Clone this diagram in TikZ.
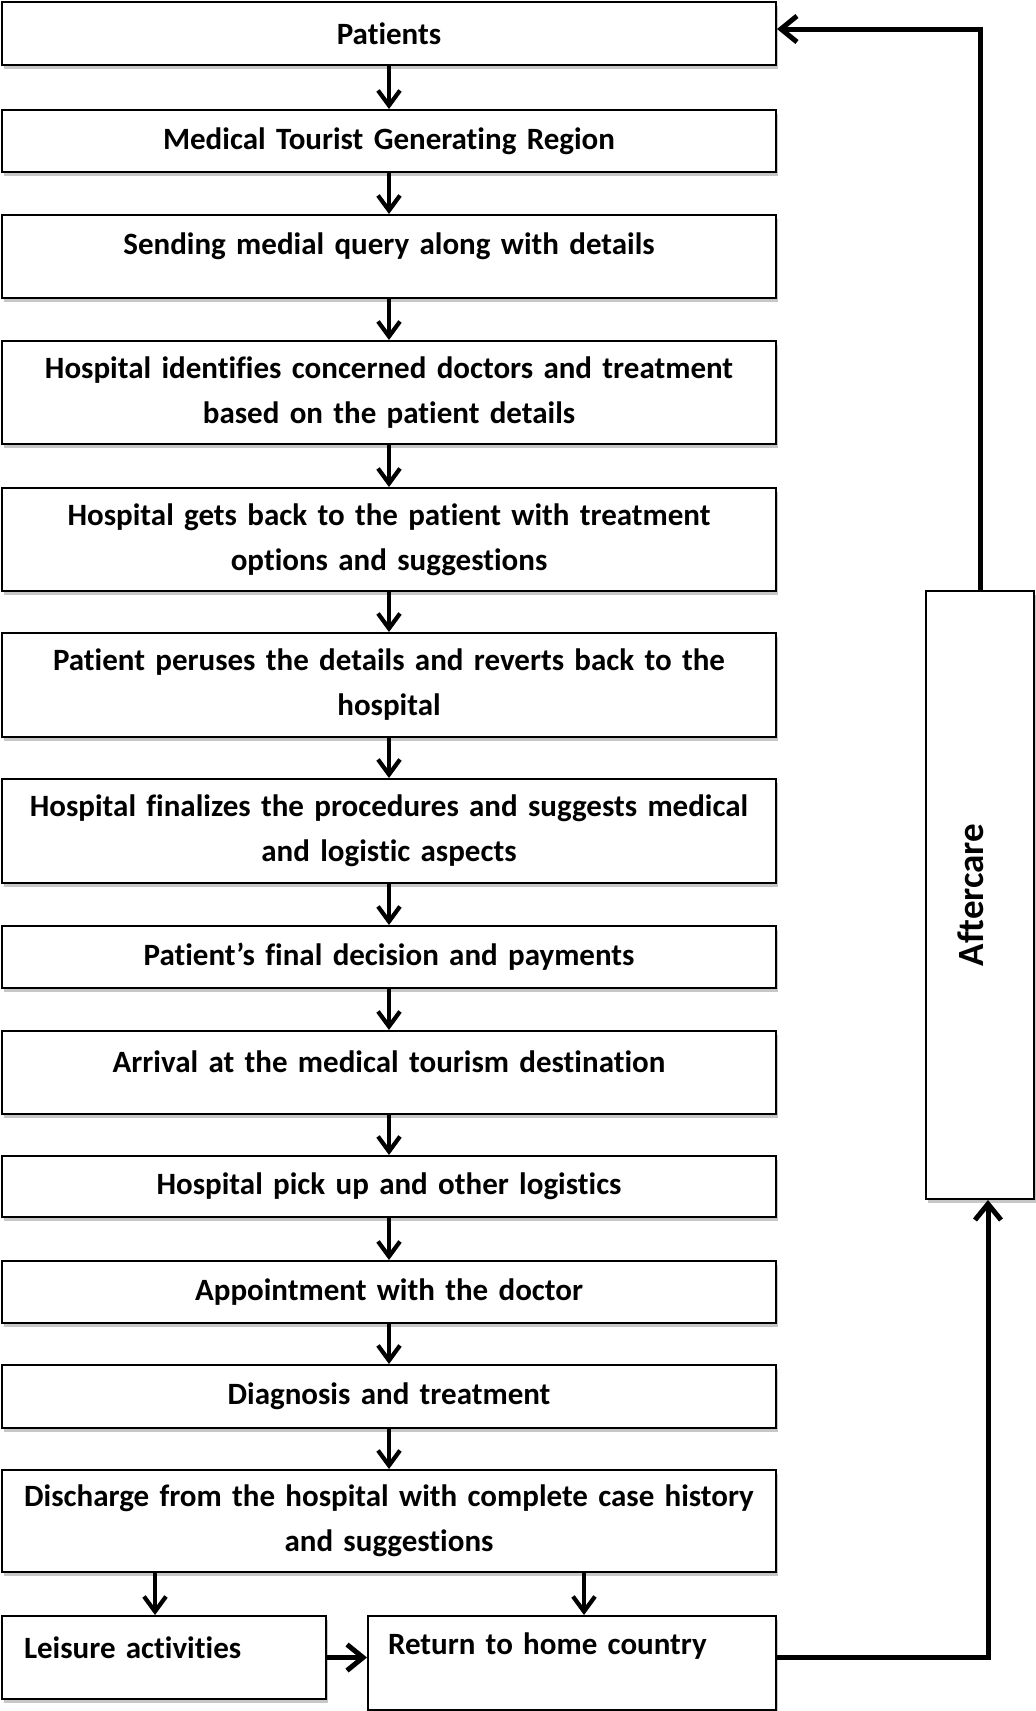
\documentclass[tikz,border=0pt]{standalone}
\usepackage{fontspec}
\setmainfont{Carlito}[Ligatures=NoCommon]
\usetikzlibrary{arrows.meta,shadows}
\begin{document}
\begin{tikzpicture}[x=1pt,y=-1pt,
 box/.style={draw=black, line width=2pt, fill=white, align=center,
   font=\bfseries\fontsize{31}{45}\selectfont,
   general shadow={fill=black!22, shadow xshift=2pt, shadow yshift=-4pt},
   inner ysep=0pt, inner xsep=7pt},
 mainbox/.style={box, minimum width=774pt, text width=760pt},
 dn/.style={line width=4.2pt, -{Straight Barb[length=15pt,width=22pt]}},
 fb/.style={line width=5pt, -{Straight Barb[length=16pt,width=26pt]}},
]
\useasboundingbox (0,0) rectangle (1036,1711);

\node[mainbox, minimum height=63pt] (n1) at (389,33.5) {Patients};
\node[mainbox, minimum height=62pt] (n2) at (389,141) {Medical Tourist Generating Region};
\node[mainbox, minimum height=83pt, text depth=26pt] (n3) at (389,256.5) {Sending medial query along with details};
\node[mainbox, minimum height=103pt] (n4) at (389,392.5) {Hospital identifies concerned doctors and treatment\\based on the patient details};
\node[mainbox, minimum height=103pt] (n5) at (389,539.5) {Hospital gets back to the patient with treatment\\options and suggestions};
\node[mainbox, minimum height=104pt] (n6) at (389,685) {Patient peruses the details and reverts back to the\\hospital};
\node[mainbox, minimum height=104pt] (n7) at (389,831) {Hospital finalizes the procedures and suggests medical\\and logistic aspects};
\node[mainbox, minimum height=62pt] (n8) at (389,957) {Patient’s final decision and payments};
\node[mainbox, minimum height=83pt, text depth=22pt] (n9) at (389,1072.5) {Arrival at the medical tourism destination};
\node[mainbox, minimum height=61pt] (n10) at (389,1186.5) {Hospital pick up and other logistics};
\node[mainbox, minimum height=62pt] (n11) at (389,1292) {Appointment with the doctor};
\node[mainbox, minimum height=63pt] (n12) at (389,1396.5) {Diagnosis and treatment};
\node[mainbox, minimum height=102pt] (n13) at (389,1521) {Discharge from the hospital with complete case history\\and suggestions};

\node[box, align=left, inner xsep=22pt, text width=280pt, minimum width=324pt, minimum height=83pt, text depth=20pt] (leis) at (164,1657.5) {Leisure activities};
\node[box, align=left, inner xsep=20pt, text width=368pt, minimum width=408pt, minimum height=94pt, text depth=38pt] (ret) at (572,1663) {Return to home country};

\node[box, rotate=90, minimum width=608pt, minimum height=108pt, text depth=18pt, font=\bfseries\fontsize{37}{45}\selectfont] (aft) at (980,895) {Aftercare};

\foreach \a/\b in {n1/n2,n2/n3,n3/n4,n4/n5,n5/n6,n6/n7,n7/n8,n8/n9,n9/n10,n10/n11,n11/n12,n12/n13}
  \draw[dn] (\a) -- (\b);

\coordinate (xl) at (155,0);
\coordinate (xr) at (584,0);
\coordinate (xf) at (988,0);
\draw[dn] (n13.south -| xl) -- (leis.north -| xl);
\draw[dn] (n13.south -| xr) -- (ret.north -| xr);
\draw[fb] (leis.east) -- (leis.east -| ret.west);
\draw[fb] (leis.east -| ret.east) -| (aft.west -| xf);
\draw[fb] (aft.east) |- ([yshift=4.5pt]n1.east);
\end{tikzpicture}
\end{document}
